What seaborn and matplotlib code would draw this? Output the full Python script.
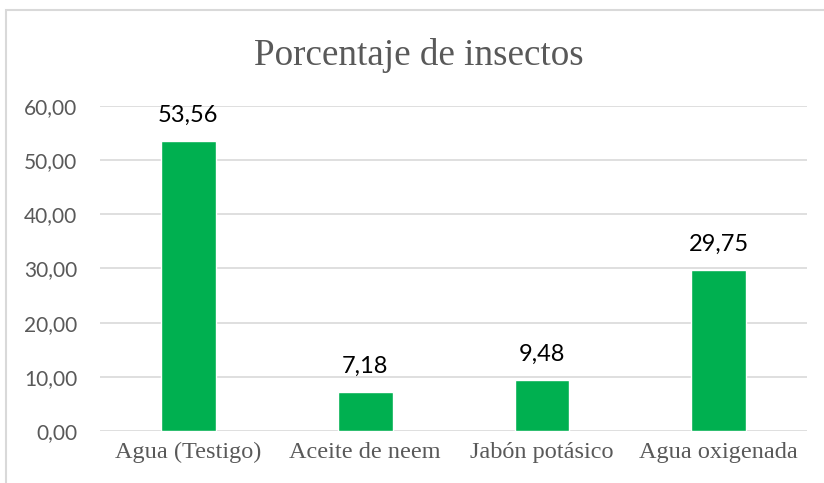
import matplotlib
matplotlib.use("Agg")
import matplotlib.pyplot as plt
import seaborn as sns
import pandas as pd
from matplotlib.patches import Rectangle

categorias = ["Agua (Testigo)", "Aceite de neem", "Jabón potásico", "Agua oxigenada"]
porcentajes = [53.56, 7.18, 9.48, 29.75]
ticks_y = [0, 10, 20, 30, 40, 50, 60]

sns.set_theme(style="white")
plt.rcParams['font.family'] = ['Lato', 'DejaVu Sans']

df = pd.DataFrame({'Tratamiento': categorias, 'Porcentaje': porcentajes})

fig = plt.figure(figsize=(8.24, 4.83), dpi=100)
ax = fig.add_axes([0.1214, 0.1077, 0.858, 0.6728])

sns.barplot(data=df, x='Tratamiento', y='Porcentaje', ax=ax, color='#00B050',
            width=0.31, saturation=1)

ax.set_ylim(0, 60)
ax.set_xlim(-0.5, 3.5)
ax.set_yticks(ticks_y)
ax.set_yticklabels([f"{v:.2f}".replace('.', ',') for v in ticks_y],
                   fontsize=15, color='#595959')
ax.set_xticks(range(len(categorias)))
ax.set_xticklabels(categorias, family=['Liberation Serif'], fontsize=17.5, color='#595959')
ax.tick_params(axis='both', length=0)
ax.tick_params(axis='x', pad=8)
ax.tick_params(axis='y', pad=16.5)
ax.yaxis.grid(True, color='#d9d9d9', linewidth=1.2)
ax.set_axisbelow(True)
for s in ax.spines.values():
    s.set_visible(False)
ax.set_xlabel('')
ax.set_ylabel('')

# etiquetas de datos sobre cada barra
for i, v in enumerate(porcentajes):
    ax.annotate(f"{v:.2f}".replace('.', ','), (i, v), xytext=(0, 13.5),
                textcoords='offset points', ha='center', va='baseline',
                fontsize=17, color='black')

fig.text(0.5085, 0.8654, 'Porcentaje de insectos', ha='center', va='baseline',
         family=['Liberation Serif'], fontsize=26.7, color='#595959')

# borde del área del gráfico (estilo Excel)
fig.patches.append(Rectangle((6 / 824, -0.1), 1.2, 1.1 - 10 / 483,
                             transform=fig.transFigure, fill=False,
                             edgecolor='#d9d9d9', linewidth=1.5))

fig.savefig('out.png', dpi=100)
